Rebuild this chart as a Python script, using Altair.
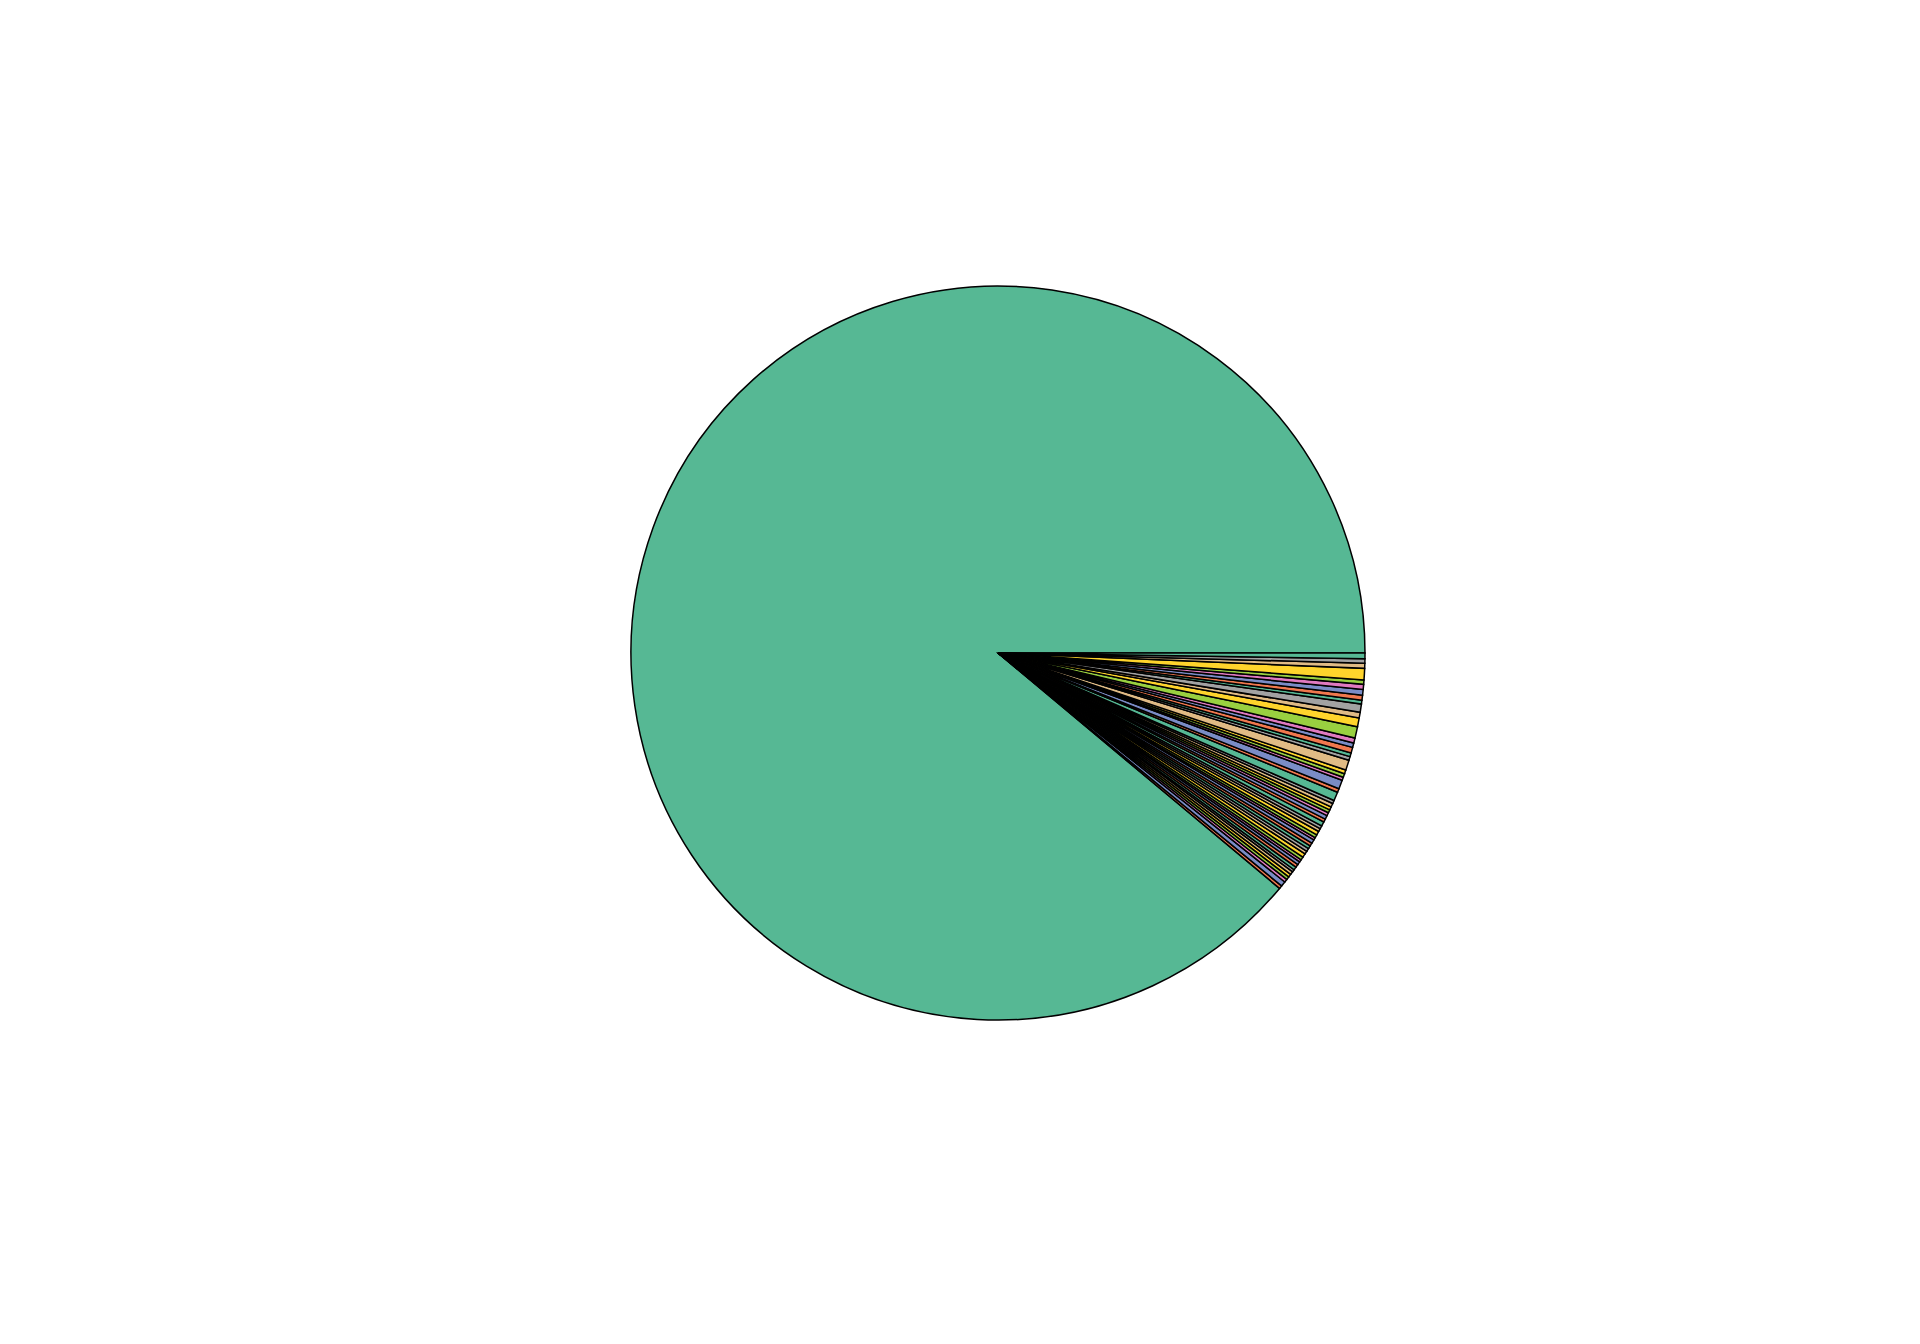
import math
import altair as alt
import pandas as pd

# Slice sizes (degrees of the pie); first entry is the dominant slice,
# the rest are the small slices in data order (counter-clockwise from the big one).
# Small slices listed clockwise from the 3 o'clock line:
small_clockwise = [
    0.9, 0.7, 0.8, 1.8, 0.7, 0.8, 0.9, 0.8,
    0.6, 1.3, 0.9, 1.4, 1.8, 0.8, 0.7, 0.9,
    0.6, 0.6, 1.6, 0.6, 0.6, 0.5, 1.4, 0.6,
    1.4, 0.5, 0.6, 0.5, 0.5, 0.5, 0.6, 0.5,
    0.7, 0.5, 0.5, 0.6, 0.5, 0.4, 0.6, 0.5,
    0.5, 0.5, 0.5, 0.6, 0.5, 0.4, 0.5, 0.5,
    0.5, 0.4, 0.5, 0.5, 0.5, 0.5, 0.8, 0.5,
]
small_values = list(reversed(small_clockwise))
big_value = 360 - sum(small_values)
values = [big_value] + small_values

palette = ["#56b894", "#f0784e", "#7a8cc6", "#e07ac0",
           "#99d040", "#ffd42c", "#e0bb85", "#a2a2a2"]

n = len(values)
labels = [f"s{i:02d}" for i in range(n)]
colors = [palette[i % len(palette)] for i in range(n)]
# stacking order: clockwise from 3 o'clock -> last small slice first, big slice last
order = [n - i if i else n for i in range(n)]

df = pd.DataFrame({"label": labels, "value": values, "color": colors, "ord": order})

chart = (
    alt.Chart(df)
    .mark_arc(stroke="black", strokeWidth=1.5)
    .encode(
        theta=alt.Theta("value:Q", stack=True,
                        scale=alt.Scale(range=[math.pi / 2, math.pi / 2 + 2 * math.pi])),
        order=alt.Order("ord:Q", sort="ascending"),
        color=alt.Color("color:N", scale=None, legend=None),
        x=alt.value(998),
        y=alt.value(653),
        radius=alt.value(367),
    )
    .properties(width=1920, height=1340, padding=0, autosize="none")
    .configure_view(stroke=None)
)

chart.save("out.html", embed_options={"renderer": "svg", "actions": False})
